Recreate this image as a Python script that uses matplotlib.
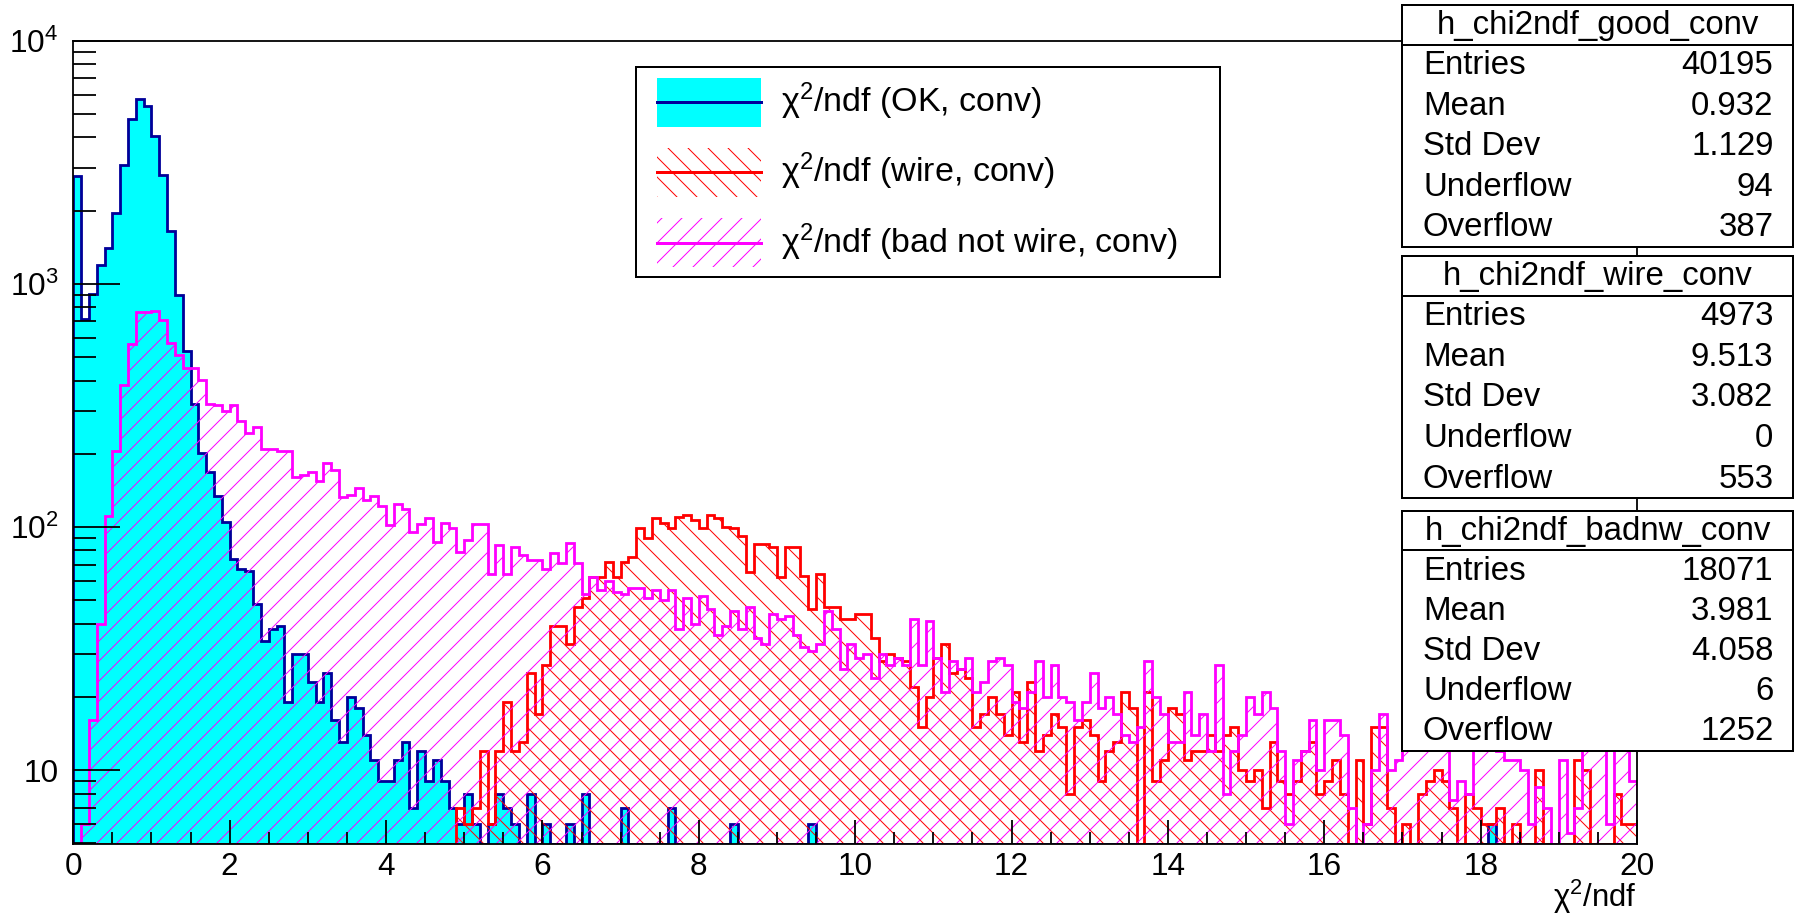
import numpy as np
import matplotlib
matplotlib.use("Agg")
import matplotlib.pyplot as plt
from matplotlib.patches import Rectangle
from matplotlib.lines import Line2D
from matplotlib.ticker import FixedLocator, FixedFormatter, MultipleLocator, LogLocator, NullFormatter

plt.rcParams["font.family"] = ["Liberation Sans", "DejaVu Sans"]
plt.rcParams["mathtext.fontset"] = "custom"
plt.rcParams["mathtext.rm"] = "Liberation Sans"
plt.rcParams["mathtext.it"] = "Liberation Sans"
plt.rcParams["mathtext.default"] = "regular"
plt.rcParams["hatch.linewidth"] = 0.6

# chi2/ndf histograms: 200 bins between 0 and 20
x_min, x_max, n_bins = 0.0, 20.0, 200

ok_counts = [
    2780, 720, 910, 1200, 1400, 1960, 3080, 4750, 5750, 5390,
    4060, 2800, 1650, 900, 530, 320, 202, 169, 134, 105,
    74, 67, 66, 48, 34, 38, 39, 19, 30, 30,
    23, 19, 25, 16, 13, 20, 18, 14, 11, 9,
    9, 11, 13, 7, 12, 9, 11, 9, 7, 6,
    8, 6, 0, 6, 8, 7, 6, 0, 8, 0,
    6, 0, 0, 6, 0, 8, 0, 0, 0, 0,
    7, 0, 0, 0, 0, 0, 7, 0, 0, 0,
    0, 0, 0, 0, 6, 0, 0, 0, 0, 0,
    0, 0, 0, 0, 6, 0, 0, 0, 0, 0,
    0, 0, 0, 0, 0, 0, 0, 0, 0, 0,
    0, 0, 0, 0, 0, 0, 0, 0, 0, 0,
    0, 0, 0, 0, 0, 0, 0, 0, 0, 0,
    0, 0, 0, 0, 0, 0, 0, 0, 0, 0,
    0, 0, 0, 0, 0, 0, 0, 0, 0, 0,
    0, 0, 0, 0, 0, 0, 0, 0, 0, 0,
    0, 0, 0, 0, 0, 0, 0, 0, 0, 0,
    0, 0, 0, 0, 0, 0, 0, 0, 0, 0,
    0, 6, 0, 0, 0, 0, 0, 0, 0, 0,
    0, 0, 0, 0, 0, 0, 0, 0, 0, 0,
]

wire_counts = [
    0, 0, 0, 0, 0, 0, 0, 0, 0, 0,
    0, 0, 0, 0, 0, 0, 0, 0, 0, 0,
    0, 0, 0, 0, 0, 0, 0, 0, 0, 0,
    0, 0, 0, 0, 0, 0, 0, 0, 0, 0,
    0, 0, 0, 0, 0, 0, 0, 0, 0, 7,
    6, 7, 12, 6, 12, 19, 12, 13, 25, 17,
    27, 39, 39, 33, 47, 51, 62, 62, 72, 62,
    72, 75, 99, 90, 109, 104, 99, 110, 112, 107,
    99, 112, 109, 100, 99, 92, 65, 85, 85, 83,
    62, 83, 83, 63, 46, 64, 47, 47, 42, 42,
    44, 44, 35, 28, 30, 29, 28, 22, 15, 20,
    29, 33, 25, 26, 24, 15, 17, 20, 17, 14,
    21, 13, 23, 12, 14, 17, 15, 8, 15, 16,
    14, 9, 12, 13, 21, 18, 0, 21, 9, 11,
    18, 17, 11, 12, 12, 14, 12, 14, 15, 10,
    9, 10, 7, 13, 9, 8, 9, 12, 13, 8,
    9, 11, 8, 0, 11, 6, 15, 15, 7, 0,
    6, 0, 8, 9, 10, 9, 7, 0, 8, 7,
    6, 6, 7, 0, 6, 0, 0, 10, 0, 0,
    0, 0, 11, 10, 0, 0, 0, 8, 6, 6,
]

badnw_counts = [
    0, 6, 16, 40, 111, 205, 383, 564, 768, 765,
    770, 709, 569, 509, 451, 451, 402, 320, 317, 300,
    317, 272, 244, 258, 210, 210, 206, 205, 160, 163,
    168, 154, 184, 172, 133, 135, 144, 129, 134, 122,
    102, 124, 118, 95, 103, 109, 87, 104, 99, 79,
    88, 103, 103, 64, 84, 64, 83, 77, 73, 73,
    67, 78, 71, 86, 71, 53, 62, 55, 60, 54,
    53, 56, 56, 51, 55, 50, 55, 38, 51, 40,
    52, 46, 36, 39, 45, 38, 47, 35, 33, 44,
    42, 43, 36, 32, 31, 33, 45, 38, 26, 33,
    29, 30, 24, 30, 27, 29, 27, 42, 27, 41,
    29, 21, 28, 26, 29, 21, 23, 28, 29, 27,
    19, 18, 21, 28, 20, 27, 20, 19, 16, 19,
    25, 18, 20, 17, 14, 13, 15, 28, 20, 17,
    13, 13, 21, 14, 17, 12, 27, 8, 12, 14,
    20, 17, 21, 18, 12, 6, 11, 12, 16, 10,
    16, 16, 14, 7, 0, 6, 10, 17, 10, 11,
    16, 14, 18, 13, 15, 13, 7.5, 9, 8, 14,
    14, 14, 12, 11, 11, 10, 6, 8.5, 7, 0,
    11, 5.5, 7, 14, 14, 14, 6, 14, 14, 9,
]

series_labels = [
    r"χ$^{2}$/ndf (OK, conv)",
    r"χ$^{2}$/ndf (wire, conv)",
    r"χ$^{2}$/ndf (bad not wire, conv)",
]
x_title = r"χ$^{2}$/ndf"

stat_names = ["h_chi2ndf_good_conv", "h_chi2ndf_wire_conv", "h_chi2ndf_badnw_conv"]
stat_rows = ["Entries", "Mean", "Std Dev", "Underflow", "Overflow"]
ok_stats = ["40195", "0.932", "1.129", "94", "387"]
wire_stats = ["4973", "9.513", "3.082", "0", "553"]
badnw_stats = ["18071", "3.981", "4.058", "6", "1252"]

y_ticks = [10, 100, 1000, 10000]
y_tick_labels = ["10", "$10^{2}$", "$10^{3}$", "$10^{4}$"]
x_ticks = [0, 2, 4, 6, 8, 10, 12, 14, 16, 18, 20]

# canvas geometry in pixels
W, H, DPI = 1795, 916, 120
PT = 72.0 / DPI

fig = plt.figure(figsize=(W / DPI, H / DPI), dpi=DPI)
fig.patch.set_facecolor("white")

fl, fr, ft, fb = 73.3, 1637.0, 40.7, 844.3
ax = fig.add_axes([fl / W, 1 - fb / H, (fr - fl) / W, (fb - ft) / H])
y_lo, y_hi = 4.95, 1.0e4
ax.set_yscale("log")
ax.set_xlim(x_min, x_max)
ax.set_ylim(y_lo, y_hi)

edges = np.linspace(x_min, x_max, n_bins + 1)
hist_lw = 2.8 * PT


def draw_hist(counts, line_color, face=None, hatch=None):
    v = np.clip(np.asarray(counts, dtype=float), y_lo, None)
    if face is not None:
        ax.stairs(v, edges, baseline=y_lo, fill=True, facecolor=face,
                  edgecolor="none", linewidth=0)
    if hatch is not None:
        ax.stairs(v, edges, baseline=y_lo, fill=True, facecolor="none",
                  edgecolor=line_color, linewidth=0, hatch=hatch)
    ax.stairs(v, edges, baseline=y_lo, fill=False, color=line_color,
              linewidth=hist_lw)


navy = "#000099"
draw_hist(ok_counts, navy, face="#00ffff")
draw_hist(wire_counts, "#ff0000", hatch="\\\\")
draw_hist(badnw_counts, "#ff00ff", hatch="//")

# axes in ROOT style: ticks inside, only left and bottom
for s in ax.spines.values():
    s.set_linewidth(1.8 * PT)
    s.set_zorder(5)

ax.yaxis.set_major_locator(FixedLocator(y_ticks))
ax.yaxis.set_major_formatter(FixedFormatter(y_tick_labels))
ax.yaxis.set_minor_locator(LogLocator(base=10, subs=np.arange(2, 10), numticks=20))
ax.yaxis.set_minor_formatter(NullFormatter())
ax.xaxis.set_major_locator(FixedLocator(x_ticks))
ax.xaxis.set_minor_locator(MultipleLocator(0.5))

tick_fs = 31.5 * PT
ax.tick_params(axis="y", which="major", direction="in", length=47 * PT,
               width=1.8 * PT, labelsize=tick_fs, pad=15 * PT)
ax.tick_params(axis="y", which="minor", direction="in", length=23 * PT,
               width=1.8 * PT)
ax.tick_params(axis="x", which="major", direction="in", length=24 * PT,
               width=1.8 * PT, labelsize=tick_fs, pad=8 * PT)
ax.tick_params(axis="x", which="minor", direction="in", length=12 * PT,
               width=1.8 * PT)
ax.tick_params(which="both", top=False, right=False)


def fx(px):
    return px / W


def fy(py):
    return 1 - py / H


fig.text(fx(1636), fy(907), x_title, ha="right", va="baseline",
         fontsize=31 * PT)

# legend
leg_fs = 34 * PT
fig.patches.append(Rectangle((fx(636), fy(276.7)), (1220 - 636) / W,
                             (276.7 - 66.7) / H, transform=fig.transFigure,
                             facecolor="white", edgecolor="black",
                             linewidth=2.0 * PT, zorder=10))
sym_x0, sym_x1 = 657, 761
leg_rows = [
    (77.7, 126.7, 101.7, navy, "#00ffff", None),
    (148.3, 196.7, 171.7, "#ff0000", None, "\\\\"),
    (218.3, 266.7, 242.7, "#ff00ff", None, "//"),
]
for (y0, y1, yl, lc, face, hatch), label in zip(leg_rows, series_labels):
    if face is not None:
        fig.patches.append(Rectangle((fx(sym_x0), fy(y1)), (sym_x1 - sym_x0) / W,
                                     (y1 - y0) / H, transform=fig.transFigure,
                                     facecolor=face, edgecolor="none",
                                     linewidth=0, zorder=11))
    else:
        fig.patches.append(Rectangle((fx(sym_x0), fy(y1)), (sym_x1 - sym_x0) / W,
                                     (y1 - y0) / H, transform=fig.transFigure,
                                     facecolor="none", edgecolor=lc, hatch=hatch,
                                     linewidth=0, zorder=11))
    fig.lines.append(Line2D([fx(sym_x0), fx(sym_x1)], [fy(yl), fy(yl)],
                            transform=fig.transFigure, color=lc,
                            linewidth=3.0 * PT, zorder=12))
    fig.text(fx(781), fy(yl), label, ha="left", va="center",
             fontsize=leg_fs, zorder=13)

# statistics boxes
stat_fs = 33 * PT
box_l, box_r = 1402.3, 1793.3


def draw_stats(top, bottom, name, values):
    fig.patches.append(Rectangle((fx(box_l), fy(bottom)), (box_r - box_l) / W,
                                 (bottom - top) / H, transform=fig.transFigure,
                                 facecolor="white", edgecolor="black",
                                 linewidth=2.0 * PT, zorder=10))
    sep = top + 39.5
    fig.lines.append(Line2D([fx(box_l), fx(box_r)], [fy(sep), fy(sep)],
                            transform=fig.transFigure, color="black",
                            linewidth=2.0 * PT, zorder=11))
    fig.text(fx((box_l + box_r) / 2), fy((top + sep) / 2 + 1), name,
             ha="center", va="center", fontsize=stat_fs, zorder=12)
    row_h = (bottom - sep) / len(stat_rows)
    for i, (row, val) in enumerate(zip(stat_rows, values)):
        yc = sep + (i + 0.5) * row_h + 1
        fig.text(fx(1423), fy(yc), row, ha="left", va="center",
                 fontsize=stat_fs, zorder=12)
        fig.text(fx(1773.5), fy(yc), val, ha="right", va="center",
                 fontsize=stat_fs, zorder=12)


draw_stats(5.0, 246.7, stat_names[0], ok_stats)
draw_stats(256.0, 498.3, stat_names[1], wire_stats)
draw_stats(510.7, 750.7, stat_names[2], badnw_stats)

fig.savefig("out.png", dpi=DPI, facecolor="white")
